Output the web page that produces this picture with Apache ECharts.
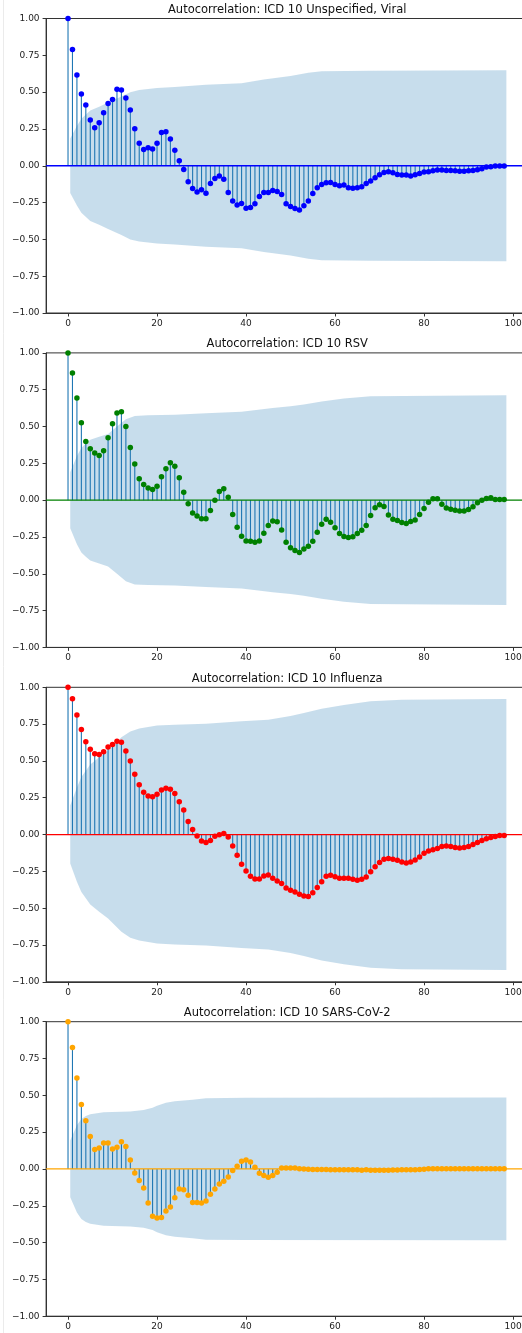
<!DOCTYPE html>
<html>
<head>
<meta charset="utf-8">
<script src="https://cdn.jsdelivr.net/npm/echarts@6/dist/echarts.min.js"></script>
<style>
html,body{margin:0;padding:0;background:#fff;}
#chart{width:522px;height:1333px;}
</style>
</head>
<body>
<div id="chart"></div>
<script>
// ---------- DATA ----------
const lags = Array.from({length: 99}, (_, i) => i);

const titles = [
  'Autocorrelation: ICD 10 Unspecified, Viral',
  'Autocorrelation: ICD 10 RSV',
  'Autocorrelation: ICD 10 Influenza',
  'Autocorrelation: ICD 10 SARS-CoV-2'
];

const colors = ['#0000ff', '#008000', '#ff0000', '#ffa500'];

const xTicks = [0, 20, 40, 60, 80, 100];
const yTicks = [-1, -0.75, -0.5, -0.25, 0, 0.25, 0.5, 0.75, 1];

const acfViral = [
  1.0, 0.79, 0.616, 0.487, 0.412, 0.31, 0.258, 0.292, 0.36, 0.423,
  0.45, 0.519, 0.514, 0.46, 0.378, 0.251, 0.152, 0.111, 0.122, 0.113,
  0.152, 0.226, 0.231, 0.181, 0.106, 0.034, -0.025, -0.109, -0.154, -0.179,
  -0.163, -0.186, -0.12, -0.086, -0.07, -0.091, -0.181, -0.24, -0.267, -0.256,
  -0.288, -0.283, -0.258, -0.208, -0.181, -0.181, -0.168, -0.175, -0.195, -0.258,
  -0.277, -0.29, -0.301, -0.272, -0.24, -0.188, -0.149, -0.127, -0.115, -0.113,
  -0.127, -0.136, -0.131, -0.149, -0.152, -0.149, -0.143, -0.12, -0.104, -0.082,
  -0.061, -0.045, -0.041, -0.048, -0.059, -0.063, -0.063, -0.07, -0.061, -0.052,
  -0.043, -0.041, -0.034, -0.029, -0.029, -0.032, -0.032, -0.034, -0.038, -0.038,
  -0.034, -0.032, -0.027, -0.02, -0.009, -0.007, -0.002, -0.002, -0.002
];

const acfRSV = [
  1.0, 0.864, 0.694, 0.526, 0.399, 0.349, 0.32, 0.304, 0.336, 0.424,
  0.519, 0.592, 0.601, 0.501, 0.358, 0.245, 0.145, 0.107, 0.082, 0.073,
  0.095, 0.159, 0.213, 0.254, 0.231, 0.152, 0.054, -0.025, -0.088, -0.107,
  -0.127, -0.127, -0.07, 0.0, 0.059, 0.077, 0.02, -0.098, -0.184, -0.245,
  -0.277, -0.279, -0.286, -0.277, -0.224, -0.172, -0.141, -0.147, -0.202, -0.286,
  -0.324, -0.342, -0.356, -0.331, -0.313, -0.279, -0.218, -0.163, -0.129, -0.15,
  -0.188, -0.227, -0.247, -0.254, -0.249, -0.227, -0.204, -0.172, -0.104, -0.052,
  -0.032, -0.043, -0.1, -0.129, -0.138, -0.152, -0.159, -0.145, -0.134, -0.098,
  -0.057, -0.014, 0.009, 0.009, -0.027, -0.054, -0.061, -0.068, -0.073, -0.073,
  -0.063, -0.045, -0.018, 0.0, 0.011, 0.016, 0.005, 0.005, 0.005
];

const acfFlu = [
  1.0, 0.923, 0.812, 0.714, 0.63, 0.58, 0.549, 0.544, 0.562, 0.594,
  0.612, 0.633, 0.626, 0.567, 0.499, 0.41, 0.338, 0.288, 0.261, 0.256,
  0.274, 0.302, 0.315, 0.308, 0.279, 0.222, 0.166, 0.088, 0.034, -0.009,
  -0.043, -0.054, -0.041, -0.011, -0.002, 0.007, -0.016, -0.077, -0.141, -0.202,
  -0.247, -0.283, -0.302, -0.302, -0.281, -0.274, -0.297, -0.315, -0.333, -0.363,
  -0.379, -0.39, -0.406, -0.417, -0.42, -0.395, -0.36, -0.32, -0.283, -0.276,
  -0.286, -0.297, -0.297, -0.297, -0.304, -0.311, -0.304, -0.288, -0.252, -0.218,
  -0.19, -0.168, -0.163, -0.168, -0.175, -0.186, -0.193, -0.186, -0.172, -0.152,
  -0.127, -0.111, -0.104, -0.095, -0.082, -0.077, -0.082, -0.088, -0.091, -0.088,
  -0.082, -0.068, -0.054, -0.041, -0.029, -0.02, -0.014, -0.007, -0.007
];

const acfCov = [
  1.0, 0.825, 0.617, 0.438, 0.327, 0.22, 0.132, 0.143, 0.177, 0.177,
  0.136, 0.147, 0.184, 0.152, 0.061, -0.027, -0.079, -0.129, -0.231, -0.322,
  -0.333, -0.329, -0.286, -0.259, -0.195, -0.136, -0.141, -0.179, -0.227, -0.227,
  -0.231, -0.218, -0.172, -0.136, -0.102, -0.084, -0.054, -0.011, 0.018, 0.052,
  0.061, 0.048, 0.011, -0.029, -0.045, -0.057, -0.045, -0.023, 0.006, 0.006,
  0.006, 0.006, 0.002, 0.0, -0.002, -0.004, -0.004, -0.004, -0.004, -0.005,
  -0.005, -0.005, -0.005, -0.005, -0.005, -0.005, -0.008, -0.005, -0.009, -0.009,
  -0.009, -0.009, -0.009, -0.007, -0.007, -0.006, -0.006, -0.006, -0.006, -0.004,
  -0.002, 0.001, 0.001, 0.001, 0.001, 0.001, 0.001, 0.001, 0.001, 0.001,
  0.001, 0.001, 0.001, 0.001, 0.001, 0.001, 0.001, 0.001, 0.001
];

// confidence band half-widths (read at sampled lags)
const bandLagsViral = [0.5, 2, 3, 5, 7, 9, 12, 14, 16, 20, 24, 31, 39, 44, 50, 54, 57, 68, 98.5];
const bandViral     = [0.185, 0.27, 0.32, 0.375, 0.40, 0.43, 0.47, 0.50, 0.515, 0.528, 0.535, 0.55, 0.56, 0.585, 0.61, 0.632, 0.642, 0.646, 0.648];

const bandLagsRSV = [0.5, 2, 3, 4, 5, 7, 9, 11, 13, 15, 18, 24, 31, 39, 46, 50, 53, 57, 62, 68, 98.5];
const bandRSV     = [0.19, 0.30, 0.355, 0.385, 0.41, 0.43, 0.45, 0.50, 0.55, 0.572, 0.577, 0.58, 0.59, 0.60, 0.626, 0.637, 0.65, 0.67, 0.69, 0.705, 0.712];

const bandLagsFlu = [0.5, 2, 3, 5, 7, 9, 12, 14, 16, 20, 24, 31, 39, 45, 50, 53, 57, 62, 68, 75, 98.5];
const bandFlu     = [0.197, 0.32, 0.39, 0.475, 0.525, 0.57, 0.66, 0.70, 0.72, 0.74, 0.746, 0.753, 0.77, 0.78, 0.805, 0.825, 0.855, 0.88, 0.905, 0.915, 0.92];

const bandLagsCov = [0.5, 2, 3, 4, 5, 8, 14, 17, 19, 20, 21, 22, 24, 28, 31, 40, 98.5];
const bandCov     = [0.193, 0.296, 0.34, 0.36, 0.372, 0.385, 0.39, 0.40, 0.415, 0.43, 0.44, 0.45, 0.46, 0.47, 0.48, 0.483, 0.485];

// ---------- CHART ----------
const FONT = "'DejaVu Sans', sans-serif";
const panels = [
  {acf: acfViral, bl: bandLagsViral, bw: bandViral},
  {acf: acfRSV,   bl: bandLagsRSV,   bw: bandRSV},
  {acf: acfFlu,   bl: bandLagsFlu,   bw: bandFlu},
  {acf: acfCov,   bl: bandLagsCov,   bw: bandCov}
];

const GRID_LEFT = 46.1, GRID_W = 482.2, GRID_H = 294.5, TOP0 = 18.5, STEP = 334.4;

const grids = [], xAxes = [], yAxes = [], series = [];
const graphics = [{
  type: 'line', silent: true,
  shape: {x1: 3.5, y1: 0, x2: 3.5, y2: 1333},
  style: {stroke: '#ebebeb', lineWidth: 1}
}];

function fmtY(v) {
  const s = Math.abs(v).toFixed(2);
  return v < 0 ? '\u2212' + s : s;
}

panels.forEach((p, i) => {
  const top = TOP0 + i * STEP;
  grids.push({
    left: GRID_LEFT, top: top, width: GRID_W, height: GRID_H,
    containLabel: false, outerBoundsMode: 'none',
    show: true, borderColor: '#333', borderWidth: 1, backgroundColor: 'transparent'
  });
  xAxes.push({
    type: 'value', gridIndex: i, min: -4.925, max: 103.425,
    axisLine: {show: true, onZero: false, lineStyle: {color: '#333', width: 1}},
    axisTick: {show: true, length: 3.5, customValues: xTicks, lineStyle: {color: '#333'}},
    axisLabel: {customValues: xTicks, fontSize: 9, color: '#222', margin: 6, fontFamily: FONT},
    splitLine: {show: false}
  });
  yAxes.push({
    type: 'value', gridIndex: i, min: -1, max: 1,
    axisLine: {show: true, onZero: false, lineStyle: {color: '#333', width: 1}},
    axisTick: {show: true, length: 3.5, customValues: yTicks, lineStyle: {color: '#333'}},
    axisLabel: {customValues: yTicks, fontSize: 9, color: '#222', margin: 6.5, fontFamily: FONT, formatter: fmtY},
    splitLine: {show: false}
  });

  const pts = lags.map((l, j) => [l, p.acf[j]]);

  // stems
  series.push({
    type: 'custom', xAxisIndex: i, yAxisIndex: i, z: 1, silent: true,
    data: pts,
    renderItem: (params, api) => {
      const a = api.coord([api.value(0), 0]);
      const b = api.coord([api.value(0), api.value(1)]);
      return {type: 'line', shape: {x1: a[0], y1: a[1], x2: b[0], y2: b[1]},
              style: {stroke: '#1f77b4', lineWidth: 1.1}};
    }
  });

  // confidence band
  series.push({
    type: 'custom', xAxisIndex: i, yAxisIndex: i, z: 2, silent: true,
    data: [[0, 0]],
    renderItem: (params, api) => {
      const up = p.bl.map((l, j) => api.coord([l, p.bw[j]]));
      const dn = p.bl.map((l, j) => api.coord([l, -p.bw[j]])).reverse();
      return {type: 'polygon', shape: {points: up.concat(dn)},
              style: {fill: 'rgba(31,119,180,0.25)'}};
    }
  });

  // zero line across the whole axes
  series.push({
    type: 'custom', xAxisIndex: i, yAxisIndex: i, z: 3, silent: true,
    data: [[0, 0]],
    renderItem: (params, api) => {
      const cs = params.coordSys;
      const y0 = api.coord([0, 0])[1];
      return {type: 'line', shape: {x1: cs.x, y1: y0, x2: cs.x + cs.width, y2: y0},
              style: {stroke: colors[i], lineWidth: 1.3}};
    }
  });

  // dots
  series.push({
    type: 'scatter', xAxisIndex: i, yAxisIndex: i, z: 4, silent: true,
    symbol: 'circle', symbolSize: 5.5,
    itemStyle: {color: colors[i], opacity: 1},
    data: pts
  });

  graphics.push({
    type: 'text', silent: true,
    x: GRID_LEFT + GRID_W / 2, y: top - 8.5,
    style: {
      text: titles[i], fill: '#111', font: '11.5px ' + FONT,
      textAlign: 'center', textVerticalAlign: 'middle',
      align: 'center', verticalAlign: 'middle'
    }
  });
});

const chart = echarts.init(document.getElementById('chart'), null, {renderer: 'canvas'});
chart.setOption({
  animation: false,
  backgroundColor: '#fff',
  grid: grids,
  xAxis: xAxes,
  yAxis: yAxes,
  series: series,
  graphic: graphics
});
</script>
</body>
</html>
